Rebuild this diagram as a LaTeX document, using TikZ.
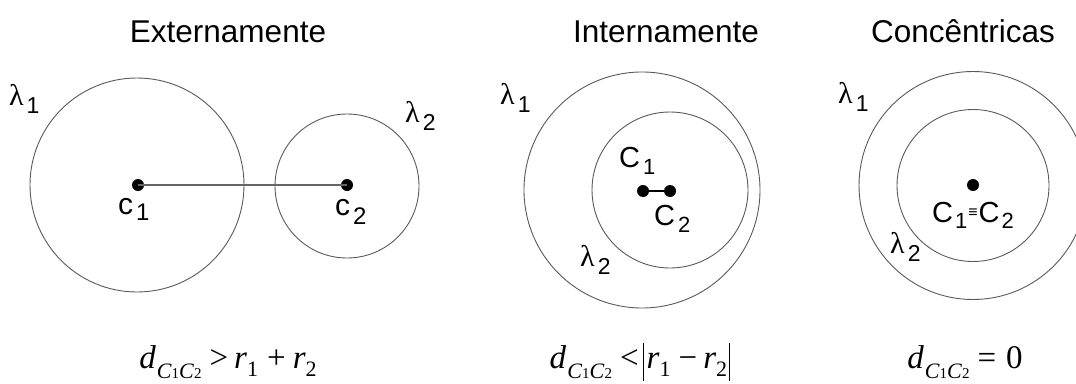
\documentclass[tikz,border=0pt]{standalone}
\usepackage{fontspec}
\setmainfont{Liberation Sans}
\newfontfamily\serif{Liberation Serif}
\newcommand{\sz}[1]{\fontsize{#1}{#1}\selectfont}
\newcommand{\lam}[1]{{\serif\sz{30}λ}\hspace{3pt}\raisebox{-8pt}{\sz{23}#1}}
\newcommand{\ctr}[3]{\sz{30}#1\hspace{3pt}\raisebox{-#3}{\sz{24}#2}}
\newcommand{\dsub}{{\serif\sz{33}\textit{d}\hspace{1pt}\raisebox{-10pt}{\sz{22}\textit{C}\sz{15}1\sz{22}\textit{C}\sz{15}2}}}
\newcommand{\rsub}[1]{\textit{r}\raisebox{-8pt}{\sz{22}#1}}
\newcommand{\vbar}{\rule[-13pt]{1.1pt}{38pt}}
\tikzset{
  circ/.style={draw=black!65, line width=0.9pt},
  link/.style={draw=black!60, line width=1.2pt},
  dot/.style={circle, fill=black, inner sep=0pt, minimum size=12pt},
  title/.style={anchor=base, inner sep=0pt, font=\sz{31.5}},
  lbl/.style={anchor=base west, inner sep=0pt},
  formula/.style={anchor=base, inner sep=0pt, font=\serif\sz{33}}
}
\begin{document}
\begin{tikzpicture}[x=1pt,y=-1pt]
\useasboundingbox (0,0) rectangle (1076,383);
\clip (0,0) rectangle (1076,383);
% titles
\node[title] (t1) at (228,42) {Externamente};
\node[title] (t2) at (666,42) {Internamente};
\node[title] (t3) at (963,42) {Concêntricas};
% panel 1
\draw[circ] (137,185) circle (107);
\draw[circ] (347,186) circle (72);
\node[dot] (c1) at (138,185) {};
\node[dot] (c2) at (347,185) {};
\draw[link] (c1.center) -- (c2.center);
\node[lbl] (lc1) at (118,214) {\ctr{c}{1}{6pt}};
\node[lbl] (lc2) at (335,215) {\ctr{c}{2}{9pt}};
\node[lbl] (l11) at (9,105) {\lam{1}};
\node[lbl] (l12) at (405,122) {\lam{2}};
\node[formula] (f1) at (228,368) {\dsub\hspace{8pt}>\hspace{6pt}\rsub{1}\hspace{9pt}+\hspace{7pt}\rsub{2}};
% panel 2
\draw[circ] (642,190) circle (118);
\draw[circ] (670,190) circle (78);
\node[dot] (d1) at (643,191) {};
\node[dot] (d2) at (670,191) {};
\draw[link, draw=black] (d1.center) -- (d2.center);
\node[lbl] (ld1) at (619,167) {\sz{29}C\hspace{3pt}\raisebox{-7pt}{\sz{22}1}};
\node[lbl] (ld2) at (654,225) {\sz{29}C\hspace{3pt}\raisebox{-7pt}{\sz{22}2}};
\node[lbl] (l21) at (500,104) {\lam{1}};
\node[lbl] (l22) at (580,266) {\lam{2}};
\node[formula] (f2) at (640,368) {\dsub\hspace{8pt}<\hspace{4pt}\vbar\hspace{3pt}\rsub{1}\hspace{8pt}\char"2212\hspace{6pt}\rsub{2}\hspace{2pt}\vbar};
% panel 3
\draw[circ] (973,185.5) circle (114);
\draw[circ] (973,185.5) circle (76);
\node[dot] (e1) at (973,185) {};
\node[lbl] (le) at (932,222) {\sz{29}C\hspace{2pt}\raisebox{-6pt}{\sz{22}1}\hspace{1pt}\raisebox{5pt}{\sz{16}≡}\hspace{1pt}C\hspace{2pt}\raisebox{-6pt}{\sz{22}2}};
\node[lbl] (l31) at (838,103) {\lam{1}};
\node[lbl] (l32) at (890,253) {\lam{2}};
\node[formula] (f3) at (965,368) {\dsub\hspace{8pt}=\hspace{10pt}0};
\end{tikzpicture}
\end{document}
